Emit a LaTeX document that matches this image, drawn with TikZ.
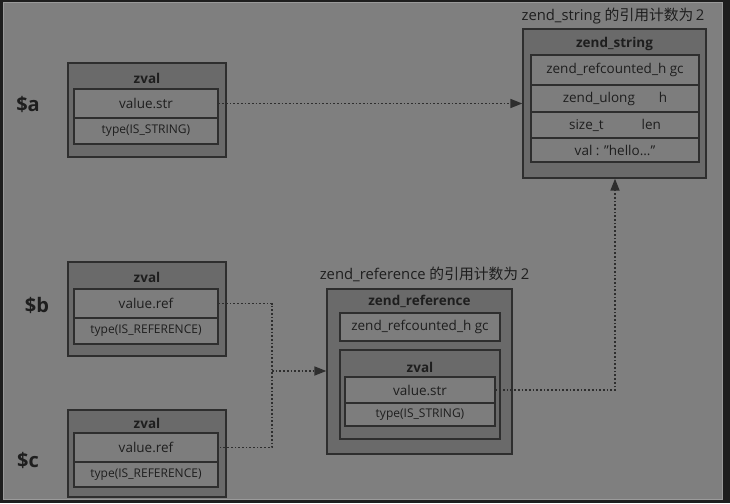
\documentclass[tikz,border=0pt]{standalone}
\usepackage{fontspec}
\setmainfont{Open Sans}
\newfontfamily\cjk{Noto Sans CJK SC}
\usetikzlibrary{arrows.meta}
\definecolor{frame}{HTML}{1E1E1E}
\definecolor{bg}{HTML}{7F7F7F}
\definecolor{edge}{HTML}{9A9A9A}
\definecolor{outerfill}{HTML}{6A6A6A}
\definecolor{cellfill}{HTML}{7D7D7D}
\definecolor{bordercol}{HTML}{2E2E2E}
\definecolor{txt}{HTML}{1E1E1E}
\tikzset{
  outerbox/.style={draw=bordercol, fill=outerfill, line width=1.3pt, inner sep=0pt},
  cell/.style={draw=bordercol, fill=cellfill, line width=1.3pt, inner sep=0pt, font=\fontsize{13.5}{15}\selectfont, text=txt},
  typetxt/.style={font=\fontsize{12}{14}\selectfont},
  ttl/.style={font=\bfseries\fontsize{13.5}{15}\selectfont, text=txt, inner sep=0pt},
  varlbl/.style={font=\bfseries\fontsize{20}{23}\selectfont, text=txt, inner sep=0pt},
  captxt/.style={font=\fontsize{14.8}{17}\selectfont, text=txt, inner sep=0pt},
  conn/.style={draw=bordercol, line width=1.7pt, dash pattern=on 1.7pt off 2pt},
  tip/.style={-{Triangle[length=12pt,width=9pt]}}
}
\begin{document}
\begin{tikzpicture}[x=1pt,y=-1pt]
\useasboundingbox (0,0) rectangle (730,503);
\fill[frame] (0,0) rectangle (730,503);
\fill[bg, draw=edge, line width=0.8pt] (3,2) rectangle (722.5,499.5);

% $a
\node[varlbl] (la) at (28,104) {\$a};
\node[outerbox, minimum width=158pt, minimum height=94pt] (za) at (147,110) {};
\node[ttl] (zat) at (147,78) {zval};
\node[cell, minimum width=144pt, minimum height=29pt] (astr) at (146,103.5) {value.str};
\node[cell, typetxt, minimum width=144pt, minimum height=26pt] (atyp) at (146,131) {type(IS\_STRING)};

% $b
\node[varlbl] (lb) at (37,305) {\$b};
\node[outerbox, minimum width=158pt, minimum height=94pt] (zb) at (147,309) {};
\node[ttl] (zbt) at (147,277) {zval};
\node[cell, minimum width=144pt, minimum height=29pt] (bref) at (146,303.5) {value.ref};
\node[cell, typetxt, minimum width=144pt, minimum height=26pt] (btyp) at (146,331) {type(IS\_REFERENCE)};

% $c
\node[varlbl] (lc) at (28,460) {\$c};
\node[outerbox, minimum width=158pt, minimum height=87pt] (zc) at (147,453.5) {};
\node[ttl] (zct) at (147,423) {zval};
\node[cell, minimum width=144pt, minimum height=29pt] (cref) at (146,447.5) {value.ref};
\node[cell, typetxt, minimum width=144pt, minimum height=25pt] (ctyp) at (146,474.5) {type(IS\_REFERENCE)};

% zend_string
\node[captxt] (scap) at (613,16) {zend\_string {\cjk 的引用计数为}\,2};
\node[outerbox, minimum width=183pt, minimum height=149pt] (zs) at (614.5,103.5) {};
\node[ttl] (zst) at (614.5,44) {zend\_string};
\node[cell, minimum width=168pt, minimum height=30pt] (sgc) at (615,70) {zend\_refcounted\_h gc};
\node[cell, minimum width=168pt, minimum height=27pt] (sh) at (615,98.5) {zend\_ulong\hspace{24pt}h};
\node[cell, minimum width=168pt, minimum height=26pt] (slen) at (615,125) {size\_t\hspace{38pt}len};
\node[cell, minimum width=168pt, minimum height=24pt] (sval) at (615,150) {val : "hello..."};

% zend_reference
\node[captxt] (rcap) at (424.5,274) {zend\_reference {\cjk 的引用计数为}\,2};
\node[outerbox, minimum width=185pt, minimum height=165pt] (zr) at (419.5,371.5) {};
\node[ttl] (zrt) at (419.5,301) {zend\_reference};
\node[cell, minimum width=160pt, minimum height=28pt] (rgc) at (420,327) {zend\_refcounted\_h gc};
\node[outerbox, minimum width=160pt, minimum height=89pt] (rz) at (420,394.5) {};
\node[ttl] (rzt) at (420,367) {zval};
\node[cell, minimum width=150pt, minimum height=26pt] (rstr) at (420,390) {value.str};
\node[cell, typetxt, minimum width=150pt, minimum height=23pt] (rtyp) at (420,414.5) {type(IS\_STRING)};

% connectors
\coordinate (j1) at (272,303.5);
\coordinate (j2) at (272,447.5);
\coordinate (jm) at (272,371);
\coordinate (k1) at (615,390);
\draw[conn, tip] (astr.east) -- (zs.west |- astr.east);
\draw[conn] (bref.east) -- (j1) -- (j2) -- (cref.east);
\draw[conn, tip] (jm) -- (zr.west |- jm);
\draw[conn, tip] (rstr.east) -- (k1) -- (zs.south -| k1);
\end{tikzpicture}
\end{document}
